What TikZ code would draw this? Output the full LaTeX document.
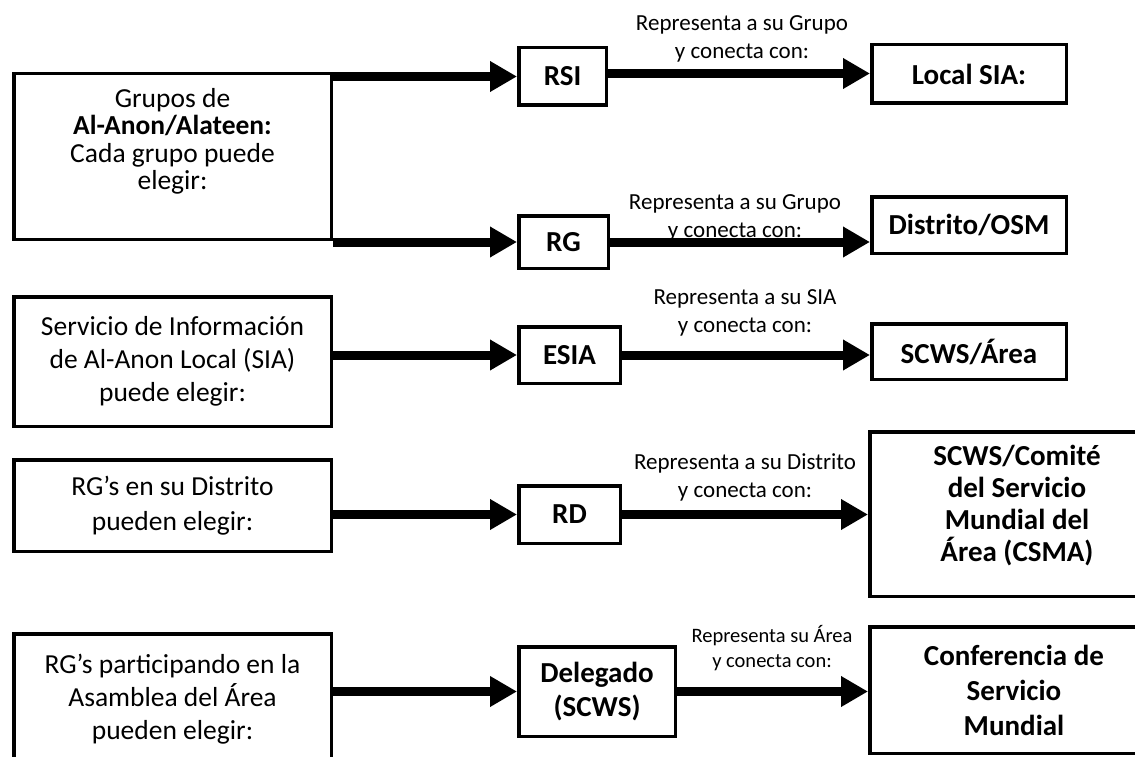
\documentclass[tikz,border=0pt]{standalone}
\usepackage{fontspec}
\setmainfont{Carlito}
\usetikzlibrary{arrows.meta, positioning}
\tikzset{
    boxnode/.style = {draw, rectangle, line width=3.5pt, inner sep=0pt, align=center},
    leftnode/.style = {boxnode, minimum width=317.5pt, font=\fontsize{27.5}{33}\selectfont},
    midnode/.style = {boxnode, font=\fontsize{29}{34}\selectfont\bfseries},
    rightnode/.style = {boxnode, font=\fontsize{29}{34}\selectfont\bfseries},
    textnode/.style = {draw=none, fill=none, inner sep=0pt, align=center, font=\fontsize{23}{28}\selectfont},
    connect/.style = {line width=9pt, -{Triangle[length=27pt, width=29pt]}}
}
\begin{document}
\begin{tikzpicture}[x=1pt, y=-1pt]
    \useasboundingbox (0,0) rectangle (1135,757);
    \clip (0,0) rectangle (1135,757);

    % left column
    \node [name=grupos, leftnode, minimum height=165.5pt,
        label={[textnode, font=\fontsize{27.5}{27.5}\selectfont, yshift=15pt]center:{Grupos de\\\textbf{Al-Anon/Alateen:}\\Cada grupo puede\\elegir:}}]
        at (172.5,156.5) {};
    \node [name=servicio, leftnode, minimum height=129.5pt] at (172.5,361.5)
        {Servicio de Información\\de Al-Anon Local (SIA)\\puede elegir:};
    \node [name=distrito, leftnode, minimum height=91.5pt, font=\fontsize{27.5}{35}\selectfont] at (172.5,505.5)
        {RG’s en su Distrito\\pueden elegir:};
    \node [name=asamblea, leftnode, minimum height=130.5pt] at (172.5,699)
        {RG’s participando en la\\Asamblea del Área\\pueden elegir:};

    % middle column
    \node [name=rsi, midnode, minimum width=87.5pt, minimum height=57.5pt] at (562.5,76.5) {RSI};
    \node [name=rg, midnode, minimum width=89.5pt, minimum height=52.5pt] at (563.5,242) {RG};
    \node [name=esia, midnode, minimum width=101.5pt, minimum height=56.5pt] at (569.5,355) {ESIA};
    \node [name=rd, midnode, minimum width=101.5pt, minimum height=57.5pt] at (569.5,514.5) {RD};
    \node [name=delegado, midnode, minimum width=156.5pt, minimum height=89.5pt] at (597,691.5)
        {Delegado\\(SCWS)};

    % right column
    \node [name=localsia, rightnode, minimum width=194.5pt, minimum height=58.5pt] at (969,74) {Local SIA:};
    \node [name=osm, rightnode, minimum width=194.5pt, minimum height=56.5pt] at (969,225) {Distrito/OSM};
    \node [name=area, rightnode, minimum width=194.5pt, minimum height=55.5pt] at (969,351.5) {SCWS/Área};
    \node [name=csma, rightnode, minimum width=294.5pt, minimum height=164.5pt,
        label={[textnode, font=\fontsize{29}{32}\selectfont\bfseries, yshift=8pt]center:{SCWS/Comité\\del Servicio\\Mundial del\\Área (CSMA)}}]
        at (1017,514) {};
    \node [name=conferencia, rightnode, minimum width=288.5pt, minimum height=126.5pt, font=\fontsize{29}{35}\selectfont\bfseries]
        at (1014,690) {Conferencia de\\Servicio\\Mundial};

    % labels over the arrows
    \node [name=lab1, textnode] at (742,39) {Representa a su Grupo\\y conecta con:};
    \node [name=lab2, textnode] at (735,218) {Representa a su Grupo\\y conecta con:};
    \node [name=lab3, textnode] at (745,313) {Representa a su SIA\\y conecta con:};
    \node [name=lab4, textnode] at (745,477) {Representa a su Distrito\\y conecta con:};
    \node [name=lab5, textnode, font=\fontsize{20.5}{25}\selectfont] at (772,648) {Representa su Área\\y conecta con:};

    % arrows
    \draw [connect] (grupos.east |- rsi.west) -- (rsi.west);
    \draw [connect] (grupos.east |- rg.west) -- (rg.west);
    \draw [connect] (servicio.east |- esia.west) -- (esia.west);
    \draw [connect] (distrito.east |- rd.west) -- (rd.west);
    \draw [connect] (asamblea.east |- delegado.west) -- (delegado.west);

    \draw [connect] ([yshift=3pt]rsi.east) -- ([yshift=3pt]rsi.east -| localsia.west);
    \draw [connect] (rg.east) -- (rg.east -| osm.west);
    \draw [connect] (esia.east) -- (esia.east -| area.west);
    \draw [connect] (rd.east) -- (rd.east -| csma.west);
    \draw [connect] (delegado.east) -- (delegado.east -| conferencia.west);
\end{tikzpicture}
\end{document}
